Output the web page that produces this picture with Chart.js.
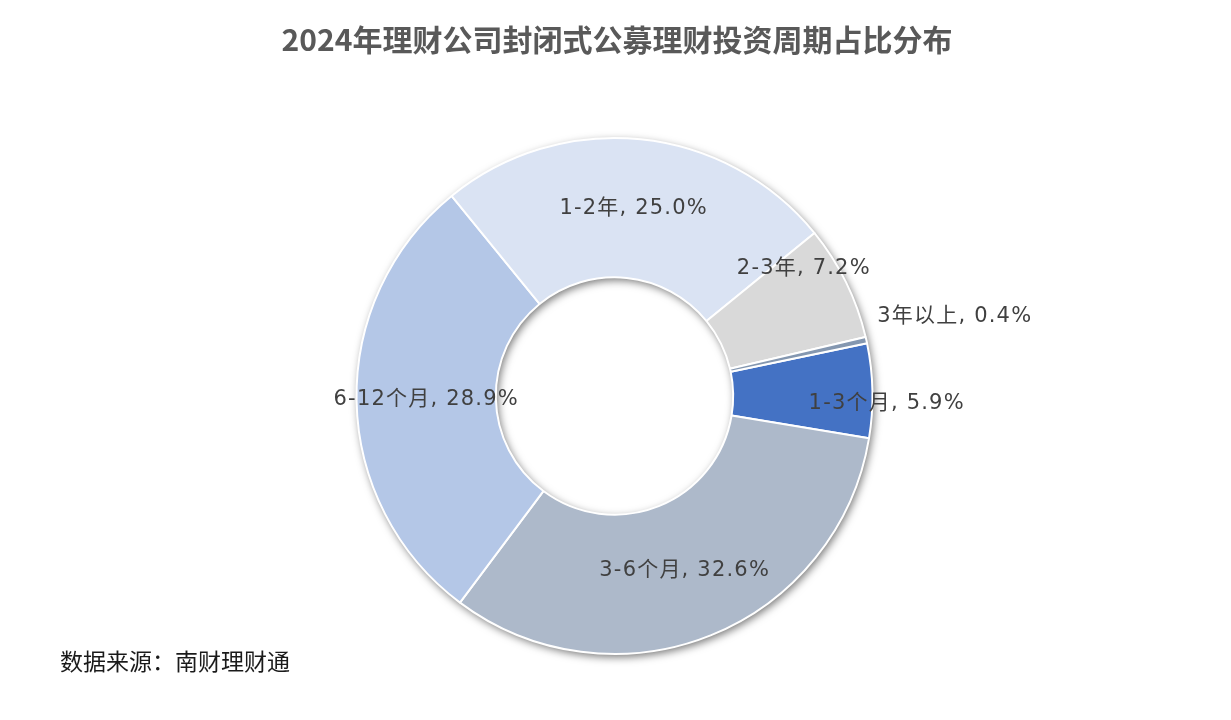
<!DOCTYPE html>
<html>
<head>
<meta charset="utf-8">
<script src="https://cdn.jsdelivr.net/npm/chart.js@4"></script>
<style>
  html, body { margin: 0; padding: 0; background: #fff; }
  #wrap { width: 1231px; height: 720px; position: relative; }
</style>
</head>
<body>
<div id="wrap"><canvas id="pie"></canvas></div>
<script>
// Investment-period share of closed-end public wealth products, 2024
const categories = ['1-3个月', '3-6个月', '6-12个月', '1-2年', '2-3年', '3年以上'];
const shares = [5.9, 32.6, 28.9, 25.0, 7.2, 0.4];
const sliceColors = ['#4472C4', '#ADB9CA', '#B4C7E7', '#DAE3F3', '#D9D9D9', '#8497B0'];

const titleText = '2024年理财公司封闭式公募理财投资周期占比分布';
const sourceText = '数据来源：南财理财通';

const FONT = '"DejaVu Sans", "Noto Sans CJK SC", sans-serif';
const CJK_FONT = '"Noto Sans CJK SC", sans-serif';

// soft shadow under the whole ring, drawn once before the slices
const ringShadow = {
  id: 'ringShadow',
  beforeDatasetsDraw(chart) {
    const arc = chart.getDatasetMeta(0).data[0];
    if (!arc) return;
    const { x, y, outerRadius, innerRadius } = arc.getProps(['x', 'y', 'outerRadius', 'innerRadius'], true);
    const ctx = chart.ctx;
    ctx.save();
    ctx.shadowColor = 'rgba(0,0,0,0.55)';
    ctx.shadowBlur = 9;
    ctx.shadowOffsetX = 2;
    ctx.shadowOffsetY = 3;
    ctx.fillStyle = '#ffffff';
    ctx.beginPath();
    ctx.arc(x, y, outerRadius, 0, Math.PI * 2);
    ctx.arc(x, y, innerRadius, 0, Math.PI * 2, true);
    ctx.fill('evenodd');
    ctx.restore();
  }
};

// "category, value%" labels on each slice; a few are pushed outwards
const sliceLabels = {
  id: 'sliceLabels',
  afterDatasetsDraw(chart, args, opts) {
    const ctx = chart.ctx;
    const meta = chart.getDatasetMeta(0);
    ctx.save();
    ctx.font = '21px ' + FONT;
    ctx.letterSpacing = '1.2px';
    ctx.fillStyle = '#404040';
    ctx.textAlign = 'center';
    ctx.textBaseline = 'middle';
    meta.data.forEach((arc, i) => {
      const p = arc.getProps(['x', 'y', 'startAngle', 'endAngle', 'innerRadius', 'outerRadius'], true);
      const mid = (p.startAngle + p.endAngle) / 2 + (opts.angleShift[i] || 0);
      const r = (p.innerRadius + p.outerRadius) / 2 + (opts.radiusShift[i] || 0);
      const text = categories[i] + ', ' + shares[i].toFixed(1) + '%';
      ctx.fillText(text, p.x + Math.cos(mid) * r, p.y + Math.sin(mid) * r);
    });
    ctx.restore();
  }
};

const headings = {
  id: 'headings',
  afterDraw(chart) {
    const ctx = chart.ctx;
    ctx.save();
    ctx.textBaseline = 'middle';
    ctx.fillStyle = '#595959';
    ctx.font = 'bold 30px ' + CJK_FONT;
    ctx.textAlign = 'center';
    ctx.fillText(titleText, 617, 40);
    ctx.fillStyle = '#1a1a1a';
    ctx.font = '23px ' + CJK_FONT;
    ctx.textAlign = 'left';
    ctx.fillText(sourceText, 60, 661);
    ctx.restore();
  }
};

new Chart(document.getElementById('pie'), {
  type: 'doughnut',
  data: {
    labels: categories,
    datasets: [{
      data: shares,
      backgroundColor: sliceColors,
      borderColor: '#ffffff',
      borderWidth: 2,
      hoverOffset: 0
    }]
  },
  options: {
    responsive: true,
    maintainAspectRatio: false,
    animation: false,
    cutout: '46%',
    rotation: 78.2,
    layout: { padding: { top: 137, bottom: 65, left: 0, right: 2 } },
    plugins: {
      legend: { display: false },
      tooltip: { enabled: false },
      sliceLabels: {
        radiusShift: [84, 0, 0, 0, 40, 161],
        angleShift: [0.05, 0, 0, 0, -0.136, -0.01]
      }
    }
  },
  plugins: [ringShadow, sliceLabels, headings]
});
</script>
</body>
</html>
